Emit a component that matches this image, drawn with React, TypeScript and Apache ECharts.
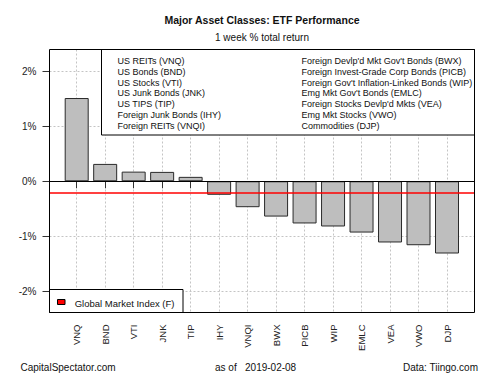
import React, { useEffect, useRef } from "react";
import * as echarts from "echarts";

const tickers = ["VNQ", "BND", "VTI", "JNK", "TIP", "IHY", "VNQI", "BWX", "PICB", "WIP", "EMLC", "VEA", "VWO", "DJP"];
const assetNames = [
  "US REITs",
  "US Bonds",
  "US Stocks",
  "US Junk Bonds",
  "US TIPS",
  "Foreign Junk Bonds",
  "Foreign REITs",
  "Foreign Devlp'd Mkt Gov't Bonds",
  "Foreign Invest-Grade Corp Bonds",
  "Foreign Gov't Inflation-Linked Bonds",
  "Emg Mkt Gov't Bonds",
  "Foreign Stocks Devlp'd Mkts",
  "Emg Mkt Stocks",
  "Commodities",
];
const returns = [1.51, 0.315, 0.175, 0.17, 0.08, -0.245, -0.47, -0.64, -0.765, -0.82, -0.93, -1.11, -1.16, -1.31];
const globalMarketIndex = -0.205;
const yTickValues = [-2, -1, 0, 1, 2];
const yMin = -2.38;
const yMax = 2.39;

const titleText = "Major Asset Classes: ETF Performance";
const subtitleText = "1 week % total return";
const gmiLabel = "Global Market Index (F)";
const footerLeft = "CapitalSpectator.com";
const footerMid = "as of   2019-02-08";
const footerRight = "Data: Tiingo.com";

const FONT = "'Liberation Sans', Arial, Helvetica, sans-serif";

export default function App() {
  const ref = useRef<HTMLDivElement>(null);

  useEffect(() => {
    document.body.style.margin = "0";
    if (!ref.current) return;
    const chart = echarts.init(ref.current, undefined, { renderer: "svg" });

    const boxL = 49.5, boxT = 49.5, boxW = 425, boxH = 263;
    const catL = 76.7, catW = 370.3;
    const dotted = { type: [2, 2] as any, color: "#c4c4c4", width: 1 };

    const legendLeft = tickers.slice(0, 7).map((t, i) => `${assetNames[i]} (${t})`);
    const legendRight = tickers.slice(7).map((t, i) => `${assetNames[i + 7]} (${t})`);
    const rowY0 = 61, rowStep = 10.83;

    const textEl = (text: string, x: number, y: number, opts: any = {}) => ({
      type: "text",
      x,
      y,
      z: 20,
      style: {
        text,
        fill: "#111",
        font: `${opts.weight || "normal"} ${opts.size || 9}px ${FONT}`,
        textAlign: opts.align || "left",
        textVerticalAlign: "middle",
      },
    });

    const graphics: any[] = [
      textEl(titleText, 262, 20, { size: 10.5, weight: "bold", align: "center" }),
      textEl(subtitleText, 262, 37, { size: 10, align: "center" }),
      {
        type: "rect",
        z: 15,
        shape: { x: 101.5, y: boxT, width: 373, height: 85.5 },
        style: { fill: "#fff", stroke: "#000", lineWidth: 1 },
      },
      ...legendLeft.map((s, i) => textEl(s, 117.5, rowY0 + i * rowStep, { size: 9 })),
      ...legendRight.map((s, i) => textEl(s, 301.5, rowY0 + i * rowStep, { size: 9 })),
      {
        type: "rect",
        z: 15,
        shape: { x: boxL, y: 289.5, width: 133.5, height: 23 },
        style: { fill: "#fff", stroke: "#000", lineWidth: 1 },
      },
      {
        type: "rect",
        z: 20,
        shape: { x: 57.5, y: 299.5, width: 7.5, height: 5 },
        style: { fill: "#ff0000", stroke: "#000", lineWidth: 1 },
      },
      textEl(gmiLabel, 74.7, 303, { size: 9.5 }),
      {
        type: "rect",
        z: 30,
        shape: { x: boxL, y: boxT, width: boxW, height: boxH },
        style: { fill: "none", stroke: "#000", lineWidth: 1 },
      },
      textEl(footerLeft, 20.5, 367, { size: 10 }),
      textEl(footerMid, 215, 367, { size: 10 }),
      textEl(footerRight, 478, 367, { size: 10, align: "right" }),
    ];

    chart.setOption({
      animation: false,
      backgroundColor: "#fff",
      grid: [
        { left: boxL, top: boxT, width: boxW, height: boxH, containLabel: false },
        { left: catL, top: boxT, width: catW, height: boxH, containLabel: false },
      ],
      xAxis: [
        { type: "value", gridIndex: 0, min: 0, max: 1, show: false },
        {
          type: "category",
          gridIndex: 1,
          data: tickers,
          boundaryGap: false,
          axisLine: { show: false },
          axisTick: { show: true, length: 7, lineStyle: { color: "#333" } },
          axisLabel: {
            rotate: 90,
            margin: 12,
            interval: 0,
            fontSize: 9.5,
            fontFamily: FONT,
            color: "#222",
          },
          splitLine: { show: true, lineStyle: dotted },
        },
      ],
      yAxis: [
        {
          type: "value",
          gridIndex: 0,
          min: yMin,
          max: yMax,
          axisLine: { show: false },
          axisTick: { show: true, length: 7, lineStyle: { color: "#333" }, customValues: yTickValues },
          axisLabel: {
            customValues: yTickValues,
            formatter: (v: number) => `${v}%`,
            margin: 13,
            fontSize: 10,
            fontFamily: FONT,
            color: "#222",
          },
          splitLine: { show: true, lineStyle: dotted, customValues: yTickValues },
        },
        { type: "value", gridIndex: 1, min: yMin, max: yMax, show: false, splitLine: { show: false } },
      ],
      series: [
        {
          type: "bar",
          xAxisIndex: 1,
          yAxisIndex: 1,
          data: returns,
          barWidth: 24,
          z: 3,
          itemStyle: { color: "#bebebe", borderColor: "#2a2a2a", borderWidth: 1 },
          silent: true,
        },
        {
          type: "line",
          xAxisIndex: 0,
          yAxisIndex: 0,
          data: [],
          z: 4,
          silent: true,
          markLine: {
            silent: true,
            symbol: "none",
            label: { show: false },
            data: [
              { yAxis: 0, lineStyle: { color: "#000", width: 1, type: "solid" } },
              { yAxis: globalMarketIndex, lineStyle: { color: "#ff0000", width: 1.5, type: "solid" } },
            ],
          },
        },
      ],
      graphic: graphics,
    });

    return () => chart.dispose();
  }, []);

  return <div ref={ref} style={{ width: 500, height: 375 }} />;
}
